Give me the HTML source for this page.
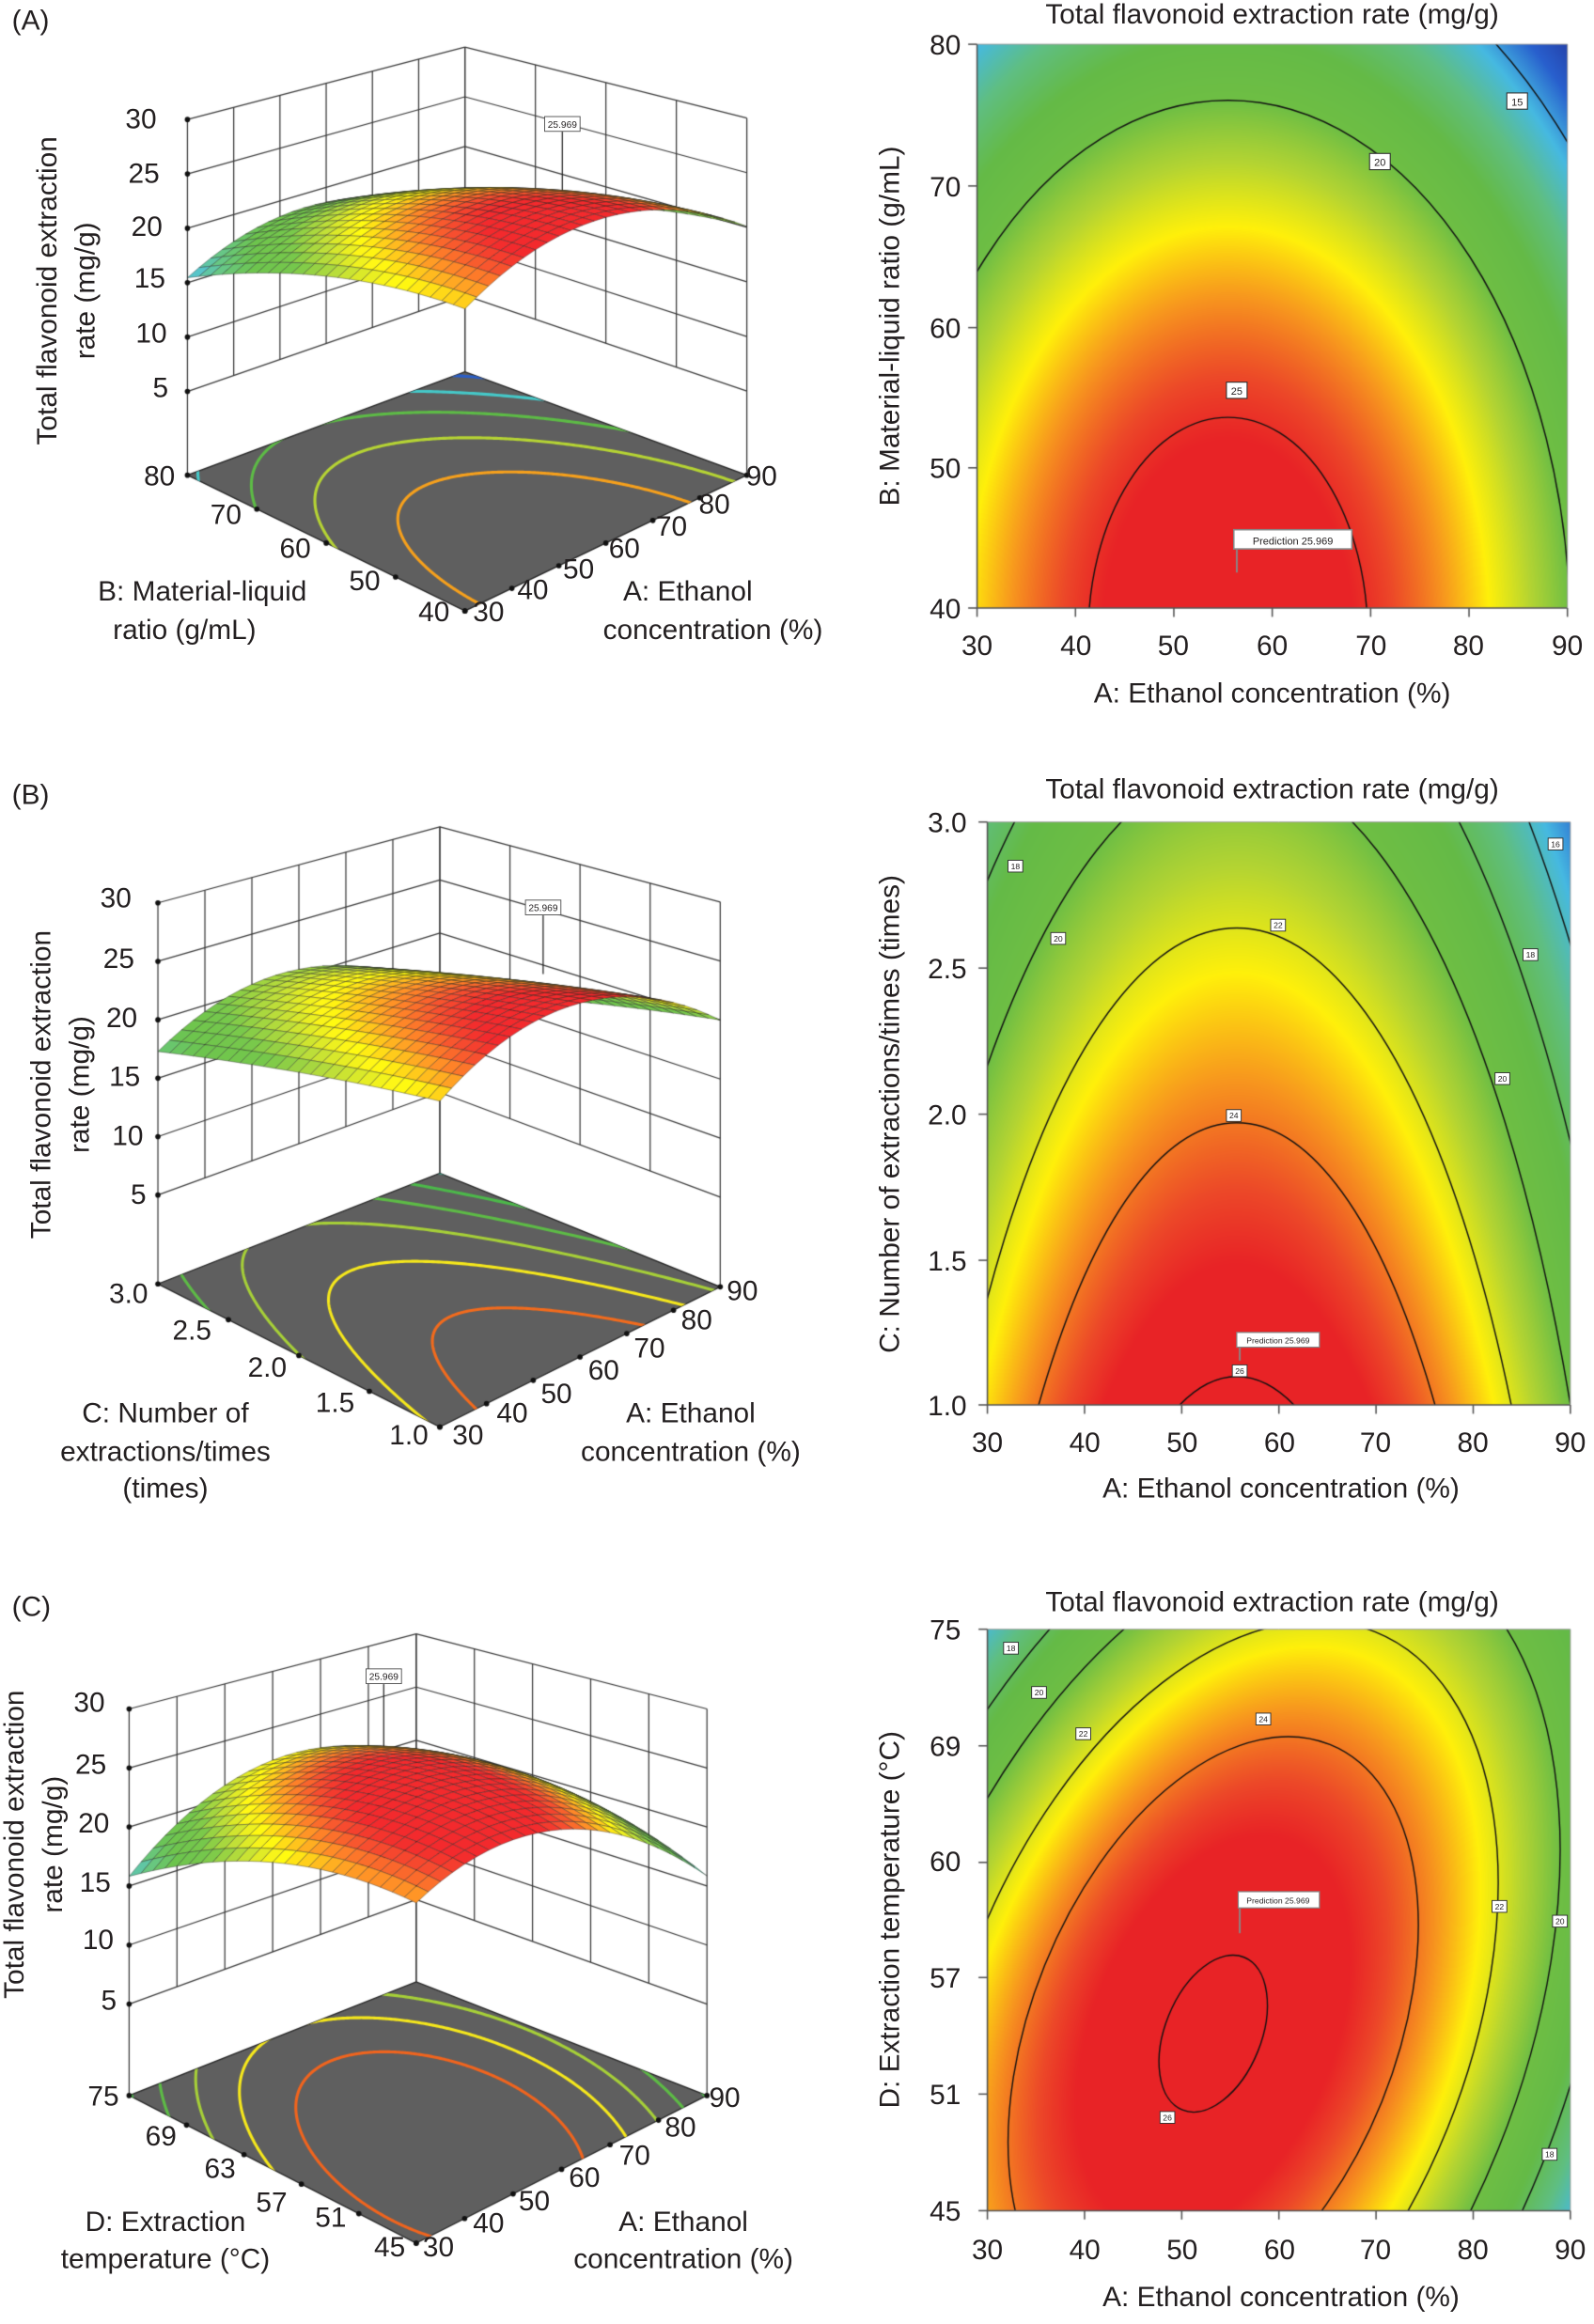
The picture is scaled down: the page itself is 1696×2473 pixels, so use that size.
<!DOCTYPE html>
<html><head><meta charset="utf-8"><style>
html,body{margin:0;padding:0;background:#fff}
#wrap{position:relative;width:1696px;height:2473px;overflow:hidden;background:#fff}
canvas,svg{position:absolute;left:0;top:0}
</style></head><body><div id="wrap">
<canvas id="c" width="1696" height="2473"></canvas>
<svg width="1696" height="2473" viewBox="0 0 1080 1575" font-family="Liberation Sans, Arial, sans-serif" font-size="19" fill="#231f20">
<!-- Panel labels -->
<text x="8" y="20">(A)</text>
<text x="8" y="545">(B)</text>
<text x="8" y="1095">(C)</text>

<!-- ===== 3D A ===== -->
<g text-anchor="end">
<text x="106" y="87">30</text><text x="108" y="124">25</text><text x="110" y="160">20</text>
<text x="112" y="195">15</text><text x="113" y="232">10</text><text x="114" y="269">5</text>
</g>
<g text-anchor="middle">
<text x="108" y="329">80</text><text x="153" y="355">70</text><text x="200" y="378">60</text>
<text x="247" y="400">50</text><text x="294" y="421">40</text>
<text x="331" y="421">30</text><text x="361" y="406">40</text><text x="392" y="392">50</text>
<text x="423" y="378">60</text><text x="455" y="363">70</text><text x="484" y="348">80</text><text x="516" y="329">90</text>
<text x="137" y="407">B: Material-liquid</text><text x="125" y="433">ratio (g/mL)</text>
<text x="466" y="407">A: Ethanol</text><text x="483" y="433">concentration (%)</text>
<text transform="translate(38,197) rotate(-90)">Total flavonoid extraction</text>
<text transform="translate(64,197) rotate(-90)">rate (mg/g)</text>
</g>

<!-- ===== 3D B ===== -->
<g text-anchor="end">
<text x="89" y="615">30</text><text x="91" y="656">25</text><text x="93" y="696">20</text>
<text x="95" y="736">15</text><text x="97" y="776">10</text><text x="99" y="816">5</text>
</g>
<g text-anchor="middle">
<text x="87" y="883">3.0</text><text x="130" y="908">2.5</text><text x="181" y="933">2.0</text>
<text x="227" y="957">1.5</text><text x="277" y="979">1.0</text>
<text x="317" y="979">30</text><text x="347" y="964">40</text><text x="377" y="951">50</text>
<text x="409" y="935">60</text><text x="440" y="920">70</text><text x="472" y="901">80</text><text x="503" y="881">90</text>
<text x="112" y="964">C: Number of</text><text x="112" y="990">extractions/times</text><text x="112" y="1015">(times)</text>
<text x="468" y="964">A: Ethanol</text><text x="468" y="990">concentration (%)</text>
<text transform="translate(34,735) rotate(-90)">Total flavonoid extraction</text>
<text transform="translate(60,735) rotate(-90)">rate (mg/g)</text>
</g>

<!-- ===== 3D C ===== -->
<g text-anchor="end">
<text x="71" y="1160">30</text><text x="72" y="1202">25</text><text x="74" y="1242">20</text>
<text x="75" y="1282">15</text><text x="77" y="1321">10</text><text x="79" y="1362">5</text>
</g>
<g text-anchor="middle">
<text x="70" y="1427">75</text><text x="109" y="1454">69</text><text x="149" y="1476">63</text>
<text x="184" y="1499">57</text><text x="224" y="1509">51</text><text x="264" y="1529">45</text>
<text x="297" y="1529">30</text><text x="331" y="1513">40</text><text x="362" y="1498">50</text>
<text x="396" y="1482">60</text><text x="430" y="1467">70</text><text x="461" y="1448">80</text><text x="491" y="1428">90</text>
<text x="112" y="1512">D: Extraction</text><text x="112" y="1537">temperature (°C)</text>
<text x="463" y="1512">A: Ethanol</text><text x="463" y="1537">concentration (%)</text>
<text transform="translate(16,1250) rotate(-90)">Total flavonoid extraction</text>
<text transform="translate(42,1250) rotate(-90)">rate (mg/g)</text>
</g>

<!-- 25.969 boxes in 3D -->
<g font-size="6.5">
<rect x="369" y="79" width="24" height="10" fill="#fff" stroke="#555" stroke-width="0.6"/><text x="381" y="86.5" text-anchor="middle">25.969</text>
<rect x="356" y="610" width="24" height="10" fill="#fff" stroke="#555" stroke-width="0.6"/><text x="368" y="617.5" text-anchor="middle">25.969</text>
<rect x="248" y="1131" width="24" height="10" fill="#fff" stroke="#555" stroke-width="0.6"/><text x="260" y="1138.5" text-anchor="middle">25.969</text>
</g>

<!-- ===== Contour A ===== -->
<g text-anchor="middle">
<text x="862" y="16">Total flavonoid extraction rate (mg/g)</text>
<text x="662" y="444">30</text><text x="729" y="444">40</text><text x="795" y="444">50</text><text x="862" y="444">60</text>
<text x="929" y="444">70</text><text x="995" y="444">80</text><text x="1062" y="444">90</text>
<text x="862" y="476">A: Ethanol concentration (%)</text>
<text transform="translate(609,221) rotate(-90)">B: Material-liquid ratio (g/mL)</text>
</g>
<g text-anchor="end">
<text x="651" y="37">80</text><text x="651" y="133">70</text><text x="651" y="229">60</text><text x="651" y="324">50</text><text x="651" y="419">40</text>
</g>

<!-- ===== Contour B ===== -->
<g text-anchor="middle">
<text x="862" y="541">Total flavonoid extraction rate (mg/g)</text>
<text x="669" y="984">30</text><text x="735" y="984">40</text><text x="801" y="984">50</text><text x="867" y="984">60</text>
<text x="932" y="984">70</text><text x="998" y="984">80</text><text x="1064" y="984">90</text>
<text x="868" y="1015">A: Ethanol concentration (%)</text>
<text transform="translate(609,755) rotate(-90)">C: Number of extractions/times (times)</text>
</g>
<g text-anchor="end">
<text x="655" y="564">3.0</text><text x="655" y="663">2.5</text><text x="655" y="762">2.0</text><text x="655" y="861">1.5</text><text x="655" y="959">1.0</text>
</g>

<!-- ===== Contour C ===== -->
<g text-anchor="middle">
<text x="862" y="1092">Total flavonoid extraction rate (mg/g)</text>
<text x="669" y="1531">30</text><text x="735" y="1531">40</text><text x="801" y="1531">50</text><text x="867" y="1531">60</text>
<text x="932" y="1531">70</text><text x="998" y="1531">80</text><text x="1064" y="1531">90</text>
<text x="868" y="1563">A: Ethanol concentration (%)</text>
<text transform="translate(609,1301) rotate(-90)">D: Extraction temperature (°C)</text>
</g>
<g text-anchor="end">
<text x="651" y="1111">75</text><text x="651" y="1190">69</text><text x="651" y="1268">60</text><text x="651" y="1347">57</text><text x="651" y="1426">51</text><text x="651" y="1505">45</text>
</g>

<!-- contour labels -->
<g font-size="7" text-anchor="middle">
<rect x="1021" y="63" width="14" height="11" fill="#fff" stroke="#333" stroke-width="0.7"/><text x="1028" y="71.5">15</text>
<rect x="928" y="104" width="14" height="11" fill="#fff" stroke="#333" stroke-width="0.7"/><text x="935" y="112.5">20</text>
<rect x="831" y="259" width="14" height="11" fill="#fff" stroke="#333" stroke-width="0.7"/><text x="838" y="267.5">25</text>
<rect x="836" y="359" width="80" height="13" fill="#fff" stroke="#888" stroke-width="1"/><text x="876" y="369">Prediction  25.969</text>

<g font-size="5.5">
<rect x="683" y="583" width="10" height="8" fill="#fff" stroke="#333" stroke-width="0.6"/><text x="688" y="589">18</text>
<rect x="712" y="632" width="10" height="8" fill="#fff" stroke="#333" stroke-width="0.6"/><text x="717" y="638">20</text>
<rect x="861" y="623" width="10" height="8" fill="#fff" stroke="#333" stroke-width="0.6"/><text x="866" y="629">22</text>
<rect x="831" y="752" width="10" height="8" fill="#fff" stroke="#333" stroke-width="0.6"/><text x="836" y="758">24</text>
<rect x="835" y="925" width="10" height="8" fill="#fff" stroke="#333" stroke-width="0.6"/><text x="840" y="931">26</text>
<rect x="1032" y="643" width="10" height="8" fill="#fff" stroke="#333" stroke-width="0.6"/><text x="1037" y="649">18</text>
<rect x="1049" y="568" width="10" height="8" fill="#fff" stroke="#333" stroke-width="0.6"/><text x="1054" y="574">16</text>
<rect x="1013" y="727" width="10" height="8" fill="#fff" stroke="#333" stroke-width="0.6"/><text x="1018" y="733">20</text>
<rect x="838" y="903" width="56" height="10" fill="#fff" stroke="#888" stroke-width="0.8"/><text x="866" y="910.5">Prediction  25.969</text>

<rect x="680" y="1113" width="10" height="8" fill="#fff" stroke="#333" stroke-width="0.6"/><text x="685" y="1119">18</text>
<rect x="699" y="1143" width="10" height="8" fill="#fff" stroke="#333" stroke-width="0.6"/><text x="704" y="1149">20</text>
<rect x="729" y="1171" width="10" height="8" fill="#fff" stroke="#333" stroke-width="0.6"/><text x="734" y="1177">22</text>
<rect x="851" y="1161" width="10" height="8" fill="#fff" stroke="#333" stroke-width="0.6"/><text x="856" y="1167">24</text>
<rect x="786" y="1431" width="10" height="8" fill="#fff" stroke="#333" stroke-width="0.6"/><text x="791" y="1437">26</text>
<rect x="1011" y="1288" width="10" height="8" fill="#fff" stroke="#333" stroke-width="0.6"/><text x="1016" y="1294">22</text>
<rect x="1052" y="1298" width="10" height="8" fill="#fff" stroke="#333" stroke-width="0.6"/><text x="1057" y="1304">20</text>
<rect x="1045" y="1456" width="10" height="8" fill="#fff" stroke="#333" stroke-width="0.6"/><text x="1050" y="1462">18</text>
<rect x="839" y="1282" width="55" height="11" fill="#fff" stroke="#888" stroke-width="0.8"/><text x="866" y="1290">Prediction  25.969</text>
</g>
</g>
</svg>
</div>
<script>
(function(){
var cv=document.getElementById('c'),ctx=cv.getContext('2d');
var S=1696/1080;
var stops=[[12,[35,50,150]],[14,[40,95,205]],[15.5,[70,185,225]],[17,[95,190,130]],[18.5,[100,186,70]],[20,[110,190,68]],[21.3,[180,212,50]],[22.5,[255,240,10]],[23.6,[247,150,30]],[24.6,[236,72,40]],[25.2,[232,35,38]]];
function cm(z){
 if(z<=stops[0][0])return stops[0][1];
 for(var i=1;i<stops.length;i++){if(z<=stops[i][0]){var a=stops[i-1],b=stops[i],t=(z-a[0])/(b[0]-a[0]);
  return [a[1][0]+(b[1][0]-a[1][0])*t,a[1][1]+(b[1][1]-a[1][1])*t,a[1][2]+(b[1][2]-a[1][2])*t];}}
 return stops[stops.length-1][1];}
function css(c){return 'rgb('+Math.round(c[0])+','+Math.round(c[1])+','+Math.round(c[2])+')';}
var th=22*Math.PI/180,ct=Math.cos(th),st=Math.sin(th);
function zA(x,y){var a=(x-832)/232,b=(y-431)/363;return 26-6*(a*a+b*b);}
function zB(x,y){return 28-1.21e-4*(x-838)*(x-838)-1.16e-5*(y-1348)*(y-1348);}
function zC(x,y){var dx=x-822,dy=-(y-1378);var xp=dx*ct-dy*st,yp=dx*st+dy*ct;return 26.15-8.5*((xp/245)*(xp/245)+(yp/420)*(yp/420));}
function eA(L){var f=Math.sqrt((26-L)/6);return [832,431,232*f,363*f,0];}
function eB(L){return [838,1348,Math.sqrt((28-L)/1.21e-4),Math.sqrt((28-L)/1.16e-5),0];}
function eC(L){var f=Math.sqrt((26.15-L)/8.5);return [822,1378,245*f,420*f,th];}
var panels=[
 {r:[662,30,1062,412],z:zA,e:eA,lv:[15,20,25],yt:[30,126,222,317,412],xt:7,
  P:{L:[127,322],F:[315,414],R:[506,322],B:[315,252],sL:7.37,sR:7.4,sB:6.73,zf:-2.7,nU:6,nV:4},
  fl:[[23.5,'#f6a01c'],[21,'#b5d334'],[18.5,'#5dbb46'],[16,'#45c8c8'],[13.5,'#2b5fc8']],pk:[381,89,130]},
 {r:[669,557,1064,952],z:zB,e:eB,lv:[16,18,20,22,24,26],yt:[557,656,755,854,952],xt:7,
  P:{L:[107,870],F:[298,967],R:[488,872],B:[298,795],sL:7.92,sR:8.0,sB:7.2,zf:-2.6,nU:6,nV:4},
  fl:[[24.5,'#f26b1d'],[22.5,'#f5e71c'],[20.5,'#a6cf38'],[18.5,'#5dbb46'],[16.5,'#4cb84a'],[14.5,'#3fc1a0']],pk:[368,620,660]},
 {r:[669,1104,1064,1498],z:zC,e:eC,lv:[18,20,22,24,26],yt:[1104,1183,1262,1340,1419,1498],xt:7,
  P:{L:[87.5,1420],F:[282,1520],R:[479,1420],B:[282,1343],sL:8.0,sR:8.0,sB:7.2,zf:-2.75,nU:6,nV:5},
  fl:[[24,'#f0641e'],[22,'#f5e71c'],[20,'#a6cf38'],[18,'#5dbb46'],[16,'#4cb84a']],pk:[260,1141,1185]}
];
// heatmaps
panels.forEach(function(p){
 var r=p.r,X0=Math.round(r[0]*S),Y0=Math.round(r[1]*S),X1=Math.round(r[2]*S),Y1=Math.round(r[3]*S);
 var w=X1-X0,h=Y1-Y0,img=ctx.createImageData(w,h),d=img.data;
 for(var j=0;j<h;j++){var y=(Y0+j+0.5)/S;for(var i=0;i<w;i++){var x=(X0+i+0.5)/S;var c=cm(p.z(x,y));var k=(j*w+i)*4;d[k]=c[0];d[k+1]=c[1];d[k+2]=c[2];d[k+3]=255;}}
 ctx.putImageData(img,X0,Y0);
});
ctx.setTransform(S,0,0,S,0,0);
// contour lines + axes
panels.forEach(function(p){
 var r=p.r;
 ctx.save();ctx.beginPath();ctx.rect(r[0],r[1],r[2]-r[0],r[3]-r[1]);ctx.clip();
 ctx.strokeStyle='#111';ctx.lineWidth=0.9;
 p.lv.forEach(function(L){var e=p.e(L);ctx.beginPath();ctx.ellipse(e[0],e[1],e[2],e[3],e[4],0,Math.PI*2);ctx.stroke();});
 ctx.restore();
 ctx.strokeStyle='#555';ctx.lineWidth=1;
 ctx.beginPath();ctx.moveTo(r[0],r[1]);ctx.lineTo(r[0],r[3]);ctx.lineTo(r[2],r[3]);ctx.stroke();
 ctx.strokeStyle='#999';ctx.lineWidth=0.6;ctx.beginPath();ctx.moveTo(r[0],r[1]);ctx.lineTo(r[2],r[1]);ctx.lineTo(r[2],r[3]);ctx.stroke();
 ctx.strokeStyle='#555';ctx.lineWidth=1;
 p.yt.forEach(function(y){ctx.beginPath();ctx.moveTo(r[0]-6,y);ctx.lineTo(r[0],y);ctx.stroke();});
 for(var k=0;k<p.xt;k++){var x=r[0]+(r[2]-r[0])*k/6;ctx.beginPath();ctx.moveTo(x,r[3]);ctx.lineTo(x,r[3]+6);ctx.stroke();}
});
// prediction markers on contour plots
ctx.strokeStyle='#888';ctx.lineWidth=1.2;
[[838,372,388],[840,913,922],[840,1293,1310]].forEach(function(m){ctx.beginPath();ctx.moveTo(m[0],m[1]);ctx.lineTo(m[0],m[2]);ctx.stroke();});
// 3D
panels.forEach(function(p){
 var P=p.P,sF=P.sL+P.sR-P.sB,r=p.r;
 function bil(u,v){return [P.F[0]*(1-u)*(1-v)+P.R[0]*u*(1-v)+P.L[0]*(1-u)*v+P.B[0]*u*v,P.F[1]*(1-u)*(1-v)+P.R[1]*u*(1-v)+P.L[1]*(1-u)*v+P.B[1]*u*v];}
 function sc(u,v){return sF*(1-u)*(1-v)+P.sR*u*(1-v)+P.sL*(1-u)*v+P.sB*u*v;}
 function pr(u,v,z){var b=bil(u,v);return [b[0],b[1]-(z-P.zf)*sc(u,v)];}
 function ln(a,b,col,w){ctx.strokeStyle=col;ctx.lineWidth=w;ctx.beginPath();ctx.moveTo(a[0],a[1]);ctx.lineTo(b[0],b[1]);ctx.stroke();}
 function zs(u,v){return p.z(r[0]+u*(r[2]-r[0]),r[3]-v*(r[3]-r[1]));}
 var g='#3a3a3a';
 // walls
 for(var k=0;k<=P.nU;k++){var u=k/P.nU;ln(pr(u,1,(k==0||k==P.nU)?P.zf:5),pr(u,1,30),g,0.8);}
 for(var k=0;k<=P.nV;k++){var v=k/P.nV;ln(pr(1,v,(k==0||k==P.nV)?P.zf:5),pr(1,v,30),g,0.8);}
 for(var z=5;z<=30;z+=5){ln(pr(0,1,z),pr(1,1,z),g,0.8);ln(pr(1,0,z),pr(1,1,z),g,0.8);}
 // z tick dots
 ctx.fillStyle='#111';
 for(var z=5;z<=30;z+=5){var q=pr(0,1,z);ctx.beginPath();ctx.arc(q[0],q[1],1.8,0,7);ctx.fill();}
 // floor
 var c0=pr(0,0,P.zf),c1=pr(1,0,P.zf),c2=pr(1,1,P.zf),c3=pr(0,1,P.zf);
 ctx.fillStyle='#5f5f5f';ctx.beginPath();ctx.moveTo(c0[0],c0[1]);ctx.lineTo(c1[0],c1[1]);ctx.lineTo(c2[0],c2[1]);ctx.lineTo(c3[0],c3[1]);ctx.closePath();ctx.fill();
 ctx.strokeStyle='#222';ctx.lineWidth=0.8;ctx.stroke();
 // floor contours
 ctx.save();ctx.beginPath();ctx.moveTo(c0[0],c0[1]);ctx.lineTo(c1[0],c1[1]);ctx.lineTo(c2[0],c2[1]);ctx.lineTo(c3[0],c3[1]);ctx.closePath();ctx.clip();
 p.fl.forEach(function(f){
  var e=p.e(f[0]);ctx.strokeStyle=f[1];ctx.lineWidth=2;ctx.beginPath();var on=false;
  for(var i=0;i<=720;i++){var t=i/720*Math.PI*2,ca=Math.cos(t),sa=Math.sin(t);
   var x=e[0]+e[2]*ca*Math.cos(e[4])-e[3]*sa*Math.sin(e[4]),y=e[1]+e[2]*ca*Math.sin(e[4])+e[3]*sa*Math.cos(e[4]);
   var u=(x-r[0])/(r[2]-r[0]),v=(r[3]-y)/(r[3]-r[1]);
   if(u>=-0.02&&u<=1.02&&v>=-0.02&&v<=1.02){var q=pr(u,v,P.zf);if(on)ctx.lineTo(q[0],q[1]);else{ctx.moveTo(q[0],q[1]);on=true;}}else on=false;}
  ctx.stroke();});
 ctx.restore();
 // floor edge tick dots
 ctx.fillStyle='#111';
 for(var k=0;k<=P.nU;k++){var q=pr(k/P.nU,0,P.zf);ctx.beginPath();ctx.arc(q[0],q[1],1.8,0,7);ctx.fill();}
 for(var k=0;k<=P.nV;k++){var q=pr(0,k/P.nV,P.zf);ctx.beginPath();ctx.arc(q[0],q[1],1.8,0,7);ctx.fill();}
 // prediction line
 ctx.strokeStyle='#222';ctx.lineWidth=0.8;ctx.beginPath();ctx.moveTo(p.pk[0],p.pk[1]);ctx.lineTo(p.pk[0],p.pk[2]);ctx.stroke();
 // surface
 var N=24,qs=[];
 for(var i=0;i<N;i++)for(var j=0;j<N;j++)qs.push([i,j]);
 qs.sort(function(a,b){return (b[0]+b[1])-(a[0]+a[1]);});
 qs.forEach(function(q){var u0=q[0]/N,u1=(q[0]+1)/N,v0=q[1]/N,v1=(q[1]+1)/N;
  var za=zs(u0,v0),zb=zs(u1,v0),zc=zs(u1,v1),zd=zs(u0,v1);
  var a=pr(u0,v0,za),b=pr(u1,v0,zb),c=pr(u1,v1,zc),d=pr(u0,v1,zd);
  var col=cm((za+zb+zc+zd)/4);
  ctx.fillStyle=css([Math.min(255,col[0]*1.02+6),Math.min(255,col[1]*1.02+6),Math.min(255,col[2]*1.02+6)]);
  ctx.beginPath();ctx.moveTo(a[0],a[1]);ctx.lineTo(b[0],b[1]);ctx.lineTo(c[0],c[1]);ctx.lineTo(d[0],d[1]);ctx.closePath();ctx.fill();
  ctx.strokeStyle='rgba(30,30,30,0.55)';ctx.lineWidth=0.45;ctx.stroke();});
});
})();
</script>
</body></html>
